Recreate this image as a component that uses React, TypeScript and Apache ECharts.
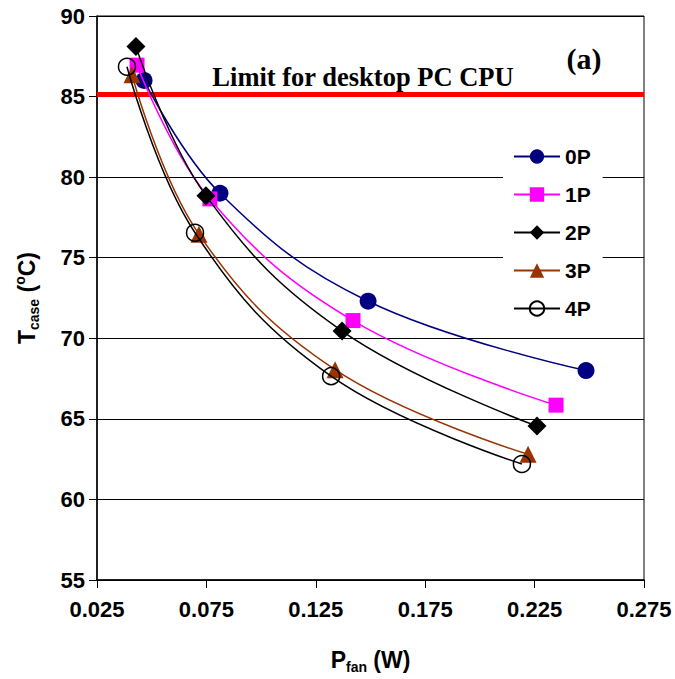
import React, { useEffect, useRef } from "react";
import * as echarts from "echarts";

const seriesNames = ["0P", "1P", "2P", "3P", "4P"];
const pfan0P = [0.0465, 0.0812, 0.1489, 0.2485];
const tcase0P = [86.0, 79.0, 72.3, 68.0];
const pfan1P = [0.0433, 0.0766, 0.142, 0.2348];
const tcase1P = [86.95, 78.65, 71.1, 65.85];
const pfan2P = [0.0428, 0.0748, 0.137, 0.2261];
const tcase2P = [88.1, 78.85, 70.45, 64.55];
const pfan3P = [0.041, 0.0716, 0.1338, 0.222];
const tcase3P = [86.35, 76.45, 68.05, 62.8];
const pfan4P = [0.0387, 0.0698, 0.132, 0.2192];
const tcase4P = [86.85, 76.55, 67.65, 62.2];
const cpuLimit = 85.15;
const limitLabel = "Limit for desktop PC CPU";
const panelLabel = "(a)";

const pairs = (xs: number[], ys: number[]) => xs.map((x, i) => [x, ys[i]]);

export default function App() {
  const ref = useRef<HTMLDivElement>(null);
  useEffect(() => {
    if (!ref.current) return;
    const chart = echarts.init(ref.current, null, { renderer: "svg" });
    const sans = "Arial, 'Liberation Sans', sans-serif";
    const serif = "'Times New Roman', 'Liberation Serif', serif";
    const styles = [
      { color: "#000080", symbol: "circle", size: 17, fill: "#000080", border: "#000080", bw: 0 },
      { color: "#FF00FF", symbol: "rect", size: 15, fill: "#FF00FF", border: "#FF00FF", bw: 0 },
      { color: "#000000", symbol: "diamond", size: 19, fill: "#000000", border: "#000000", bw: 0 },
      { color: "#993300", symbol: "triangle", size: 17, fill: "#993300", border: "#993300", bw: 0 },
      { color: "#000000", symbol: "circle", size: 17, fill: "rgba(0,0,0,0)", border: "#000000", bw: 1.5 },
    ];
    const data = [
      pairs(pfan0P, tcase0P),
      pairs(pfan1P, tcase1P),
      pairs(pfan2P, tcase2P),
      pairs(pfan3P, tcase3P),
      pairs(pfan4P, tcase4P),
    ];
    const series: any[] = seriesNames.map((name, i) => ({
      name,
      type: "line",
      data: data[i],
      smooth: 0.4,
      symbol: styles[i].symbol,
      symbolSize: styles[i].size,
      lineStyle: { color: styles[i].color, width: 1.5 },
      itemStyle: {
        color: styles[i].fill,
        borderColor: styles[i].border,
        borderWidth: styles[i].bw,
      },
      z: 3 + i,
    }));
    series[0].markLine = {
      silent: true,
      symbol: "none",
      label: { show: false },
      lineStyle: { color: "#FF0000", width: 5, type: "solid" },
      data: [{ yAxis: cpuLimit }],
      z: 2,
    };
    chart.setOption({
      animation: false,
      backgroundColor: "#ffffff",
      grid: {
        left: 97,
        top: 16,
        width: 547,
        height: 565,
        show: true,
        borderColor: "#000",
        borderWidth: 1,
        containLabel: false,
      },
      legend: {
        orient: "vertical",
        left: 503,
        top: 136,
        padding: [10, 12, 10, 10],
        backgroundColor: "#ffffff",
        itemWidth: 46,
        itemHeight: 18,
        itemGap: 17,
        data: seriesNames,
        textStyle: {
          fontFamily: sans,
          fontWeight: "bold",
          fontSize: 21,
          lineHeight: 20,
          color: "#000",
        },
      },
      xAxis: {
        type: "value",
        min: 0.025,
        max: 0.275,
        interval: 0.05,
        name: "{m|P}{s|fan}{m| (W)}",
        nameLocation: "middle",
        nameGap: 66,
        nameTextStyle: {
          rich: {
            m: { fontFamily: sans, fontWeight: "bold", fontSize: 23, lineHeight: 28, color: "#000" },
            s: { fontFamily: sans, fontWeight: "bold", fontSize: 14, lineHeight: 14, verticalAlign: "bottom", color: "#000" },
          },
        },
        axisLine: { show: true, lineStyle: { color: "#000", width: 1.5 } },
        axisTick: { show: true, inside: false, length: 8, lineStyle: { color: "#000", width: 1 } },
        splitLine: { show: false },
        axisLabel: {
          margin: 18,
          fontFamily: sans,
          fontWeight: "bold",
          fontSize: 22,
          color: "#000",
          formatter: (v: number) => v.toFixed(3),
        },
      },
      yAxis: {
        type: "value",
        min: 55,
        max: 90,
        interval: 5,
        name: "{m|T}{s|case}{m| (}{p|o}{m|C)}",
        nameLocation: "middle",
        nameGap: 56,
        nameRotate: 90,
        nameTextStyle: {
          rich: {
            m: { fontFamily: sans, fontWeight: "bold", fontSize: 23, lineHeight: 28, color: "#000" },
            s: { fontFamily: sans, fontWeight: "bold", fontSize: 14, lineHeight: 14, verticalAlign: "bottom", color: "#000" },
            p: { fontFamily: sans, fontWeight: "bold", fontSize: 14, lineHeight: 14, verticalAlign: "top", color: "#000" },
          },
        },
        axisLine: { show: true, lineStyle: { color: "#000", width: 1.5 } },
        axisTick: { show: true, inside: false, length: 8, lineStyle: { color: "#000", width: 1 } },
        splitLine: { show: true, lineStyle: { color: "#000", width: 1 } },
        axisLabel: {
          margin: 12,
          fontFamily: sans,
          fontWeight: "bold",
          fontSize: 22,
          color: "#000",
        },
      },
      graphic: [
        {
          type: "text",
          x: 363,
          y: 77,
          z: 10,
          style: {
            text: limitLabel,
            font: "bold 26.5px " + serif,
            fill: "#000",
            align: "center",
            verticalAlign: "middle",
          },
        },
        {
          type: "text",
          x: 584,
          y: 58,
          z: 10,
          style: {
            text: panelLabel,
            font: "bold 30px " + serif,
            fill: "#000",
            align: "center",
            verticalAlign: "middle",
          },
        },
      ],
      series,
    });
    return () => chart.dispose();
  }, []);
  return (
    <div
      ref={ref}
      style={{ position: "fixed", left: 0, top: 0, width: 675, height: 679, background: "#fff" }}
    />
  );
}
